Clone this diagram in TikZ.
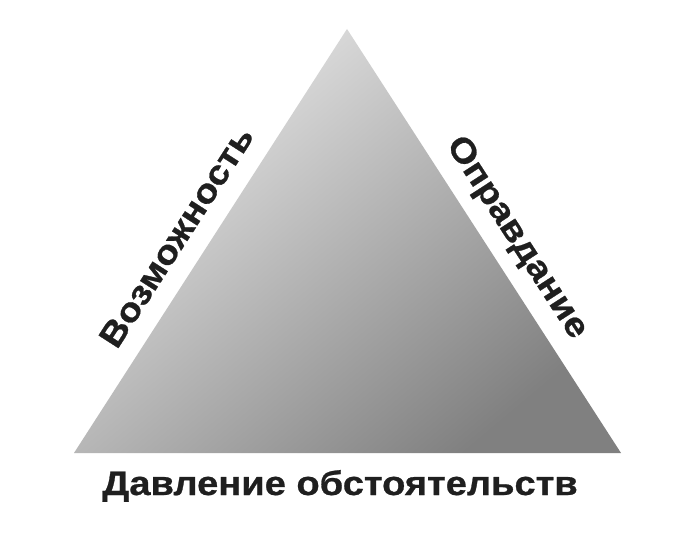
\documentclass[tikz,border=0pt]{standalone}
\usepackage{fontspec}
\setmainfont{Liberation Sans}[FakeStretch=1.12, BoldFeatures={FakeBold=0.8}]

\begin{document}
\begin{tikzpicture}
	[
		x=1pt, y=1pt,
		tri/.style = {shading=axis, top color=black!9, bottom color=black!50, shading angle=40},
		side/.style = {font=\fontsize{34}{40}\selectfont\bfseries, text=black!88, inner sep=0pt},
	]
	\useasboundingbox[fill=white] (0,0) rectangle (700,551);

	% triangle corners
	\coordinate (t)  at ( 347, 522 );
	\coordinate (bl) at (  74,  98 );
	\coordinate (br) at ( 621,  98 );

	\shade[tri] (t) -- (bl) -- (br) -- cycle;

	% side texts
	\path (bl) -- (t) node[side, pos=0.47, sloped, above=19pt] (chance) {Возможность};
	\path (t) -- (br) node[side, pos=0.53, sloped, above=13pt] (excuse) {Оправдание};
	\node[side, anchor=base] (press) at ( 340, 56 ) {Давление обстоятельств};

	\end{tikzpicture}
\end{document}
